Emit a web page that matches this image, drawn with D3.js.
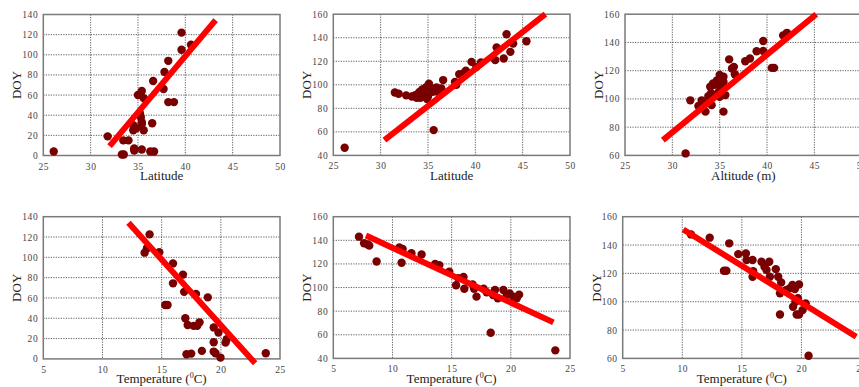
<!DOCTYPE html>
<html>
<head>
<meta charset="utf-8">
<script src="https://cdn.jsdelivr.net/npm/d3@7"></script>
<style>
  body { margin: 0; background: #fff; }
  svg { display: block; }
  .tick text { font-family: "Liberation Serif", "DejaVu Serif", serif; font-size: 9.5px; fill: #444; letter-spacing: 0.6px; }
  .grid line { stroke: #333; stroke-dasharray: 1.2,1.3; stroke-width: 0.8; }
  .ttl { font-family: "Liberation Serif", "DejaVu Serif", serif; font-size: 13px; fill: #222; }
</style>
</head>
<body>
<div id="chart"></div>
<script>
// DOY scatter plots: latitude / altitude / temperature, with fitted lines

// tick labels
var latTicks = [25, 30, 35, 40, 45, 50];
var tempTicks = [5, 10, 15, 20, 25];
var doyTicks140 = [0, 20, 40, 60, 80, 100, 120, 140];
var doyTicks40 = [40, 60, 80, 100, 120, 140, 160];
var doyTicks60 = [60, 80, 100, 120, 140, 160];

// panel a: latitude vs DOY
var latA = [26.1, 31.8, 33.3, 33.5, 33.45, 34.0, 34.5, 34.5, 34.6, 34.6, 35.0, 35.4, 35.6, 35.3, 35.4, 35.4, 35.4, 35.6, 36.3, 36.7, 36.5, 36.6, 37.7, 37.8, 38.2, 38.2, 38.8, 39.6, 39.6, 40.6, 34.8, 35.2];
var doyA = [4, 19, 1, 1, 15, 15, 25, 30, 5, 7, 60, 64, 57, 38, 33, 31, 6, 25, 4, 4, 32, 74, 66, 83, 94, 53, 53, 122, 105, 110, 27, 42];
var fitA = [[32.0, 9.3], [43.2, 134.4]];

// panel b: latitude vs DOY
var latB = [26.2, 31.5, 31.9, 32.7, 33.3, 33.6, 33.9, 34.1, 34.4, 34.6, 34.8, 35.1, 35.3, 35.5, 35.6, 35.9, 36.4, 36.6, 37.85, 38.3, 38.8, 39.6, 40.1, 40.6, 42.1, 42.25, 43.0, 43.3, 43.7, 44.0, 45.4, 34.2, 35.0, 36.0, 34.9, 33.8, 38.0, 39.0];
var doyB = [46.5, 93.5, 92.4, 91, 90, 91, 92, 94, 96, 93, 98, 101, 97, 94, 61.5, 97.7, 97, 104, 102.5, 109, 110, 119.5, 115, 119, 121, 131.7, 122.4, 143, 128, 135, 137, 89, 90, 94, 88, 89, 100, 112];
var fitB = [[30.4, 53], [47.4, 160]];

// panel c: altitude vs DOY
var altC = [31.4, 31.9, 32.75, 33.1, 33.5, 34.15, 34.0, 34.3, 34.7, 34.9, 35.2, 35.4, 35.4, 35.6, 35.0, 35.4, 36.0, 36.3, 36.5, 36.6, 37.7, 38.2, 38.9, 39.6, 39.6, 40.5, 40.75, 41.7, 42.1, 33.8, 34.5, 35.0, 33.4, 34.1];
var doyC = [61.4, 99, 95, 99, 91, 95.6, 108.6, 111, 113, 105, 108.6, 115.7, 112, 102.7, 101.5, 91, 128, 121.6, 122.7, 117.5, 126.7, 128.6, 133.8, 141, 134, 122, 122, 145, 146.8, 102, 110, 117, 97, 104];
var fitC = [[29.0, 70.8], [45.2, 160]];

// panel d: temperature vs DOY
var tempD = [13.56, 13.76, 13.98, 14.8, 15.96, 15.96, 15.3, 15.5, 16.8, 16.9, 17.0, 17.2, 17.1, 17.5, 17.9, 17.7, 18.0, 18.2, 18.4, 18.9, 19.4, 19.4, 19.4, 19.55, 19.8, 19.97, 20.4, 20.5, 23.8];
var doyD = [104.6, 108.9, 122.6, 105, 94, 74.4, 53, 53, 83, 66, 40, 33.4, 4.6, 5.2, 64, 32.5, 32.5, 36, 7.9, 60.6, 31, 16.4, 7.2, 5.6, 26, 1.3, 16, 19.3, 5.6];
var fitD = [[12.2, 134], [22.9, -4.3]];

// panel e: temperature vs DOY
var tempE = [7.17, 7.6, 7.9, 8.04, 8.66, 10.58, 10.86, 10.77, 11.6, 12.46, 13.6, 13.96, 14.8, 15.37, 15.56, 16.0, 16.07, 16.77, 16.9, 17.1, 17.7, 17.96, 18.3, 18.66, 18.5, 18.9, 19.37, 19.65, 19.9, 20.2, 20.5, 20.7, 23.76];
var doyE = [143.1, 137.5, 136.6, 135.5, 122, 134, 132.7, 121, 129, 128, 120, 119, 113.4, 102, 108, 109, 99, 102.7, 99, 92.3, 99, 96, 61.75, 98, 93.7, 91, 98, 93.7, 95, 92.3, 91, 94, 46.8];
var fitE = [[7.76, 144], [23.6, 70.5]];

// panel f: temperature vs DOY
var tempF = [10.73, 12.3, 13.5, 13.7, 13.94, 14.7, 15.34, 15.4, 15.9, 15.95, 15.9, 16.65, 16.9, 17.07, 17.3, 17.35, 17.85, 18.05, 18.3, 18.2, 18.2, 18.7, 19.0, 19.25, 19.45, 19.8, 19.3, 19.5, 19.6, 19.8, 19.7, 20.1, 20.36, 20.6];
var doyF = [147.5, 145.2, 121.9, 121.9, 141.2, 133.6, 134, 129.4, 129.4, 121.6, 117.6, 128.2, 124.7, 122.4, 128.2, 117.6, 123, 117.6, 113.6, 105.9, 91, 108.2, 109.4, 111.8, 109, 112.2, 96.5, 100, 91, 91, 102.4, 94.1, 98.8, 61.9];
var fitF = [[10.08, 151], [24.6, 75.3]];

var width = 859, height = 387;

var panels = [
  { x: latA, y: doyA, fit: fitA, xd: [25, 50], yd: [0, 140], xt: latTicks, yt: doyTicks140, left: 43.3, top: 14.5, w: 236.7, h: 141, xl: "Latitude" },
  { x: latB, y: doyB, fit: fitB, xd: [25, 50], yd: [40, 160], xt: latTicks, yt: doyTicks40, left: 333.3, top: 14.2, w: 236.7, h: 141.2, xl: "Latitude" },
  { x: altC, y: doyC, fit: fitC, xd: [25, 50], yd: [60, 160], xt: latTicks, yt: doyTicks60, left: 625, top: 14.2, w: 236.7, h: 141.2, xl: "Altitude (m)" },
  { x: tempD, y: doyD, fit: fitD, xd: [5, 25], yd: [0, 140], xt: tempTicks, yt: doyTicks140, left: 43.3, top: 216.7, w: 236.7, h: 142.2, xl: "temp" },
  { x: tempE, y: doyE, fit: fitE, xd: [5, 25], yd: [40, 160], xt: tempTicks, yt: doyTicks40, left: 333.3, top: 216.7, w: 236.7, h: 141.7, xl: "temp" },
  { x: tempF, y: doyF, fit: fitF, xd: [5, 25], yd: [60, 160], xt: tempTicks, yt: doyTicks60, left: 622.7, top: 216.7, w: 238.3, h: 141.7, xl: "temp" }
];

var svg = d3.select("#chart").append("svg")
    .attr("width", width)
    .attr("height", height);

panels.forEach(function(p) {
  var xScale = d3.scaleLinear().domain(p.xd).range([0, p.w]);
  var yScale = d3.scaleLinear().domain(p.yd).range([p.h, 0]);

  var g = svg.append("g").attr("transform", "translate(" + p.left + "," + p.top + ")");

  // dotted grid
  g.append("g").attr("class", "grid")
    .selectAll("line")
    .data(p.xt.slice(1, -1))
    .enter().append("line")
      .attr("x1", function(d) { return xScale(d); })
      .attr("x2", function(d) { return xScale(d); })
      .attr("y1", 0).attr("y2", p.h);
  g.append("g").attr("class", "grid")
    .selectAll("line")
    .data(p.yt.slice(1, -1))
    .enter().append("line")
      .attr("y1", function(d) { return yScale(d); })
      .attr("y2", function(d) { return yScale(d); })
      .attr("x1", 0).attr("x2", p.w);

  // axes (labels only)
  var xAxis = d3.axisBottom(xScale).tickValues(p.xt).tickSize(0).tickPadding(5);
  var yAxis = d3.axisLeft(yScale).tickValues(p.yt).tickSize(0).tickPadding(5);
  var xg = g.append("g").attr("transform", "translate(0," + p.h + ")").call(xAxis);
  var yg = g.append("g").call(yAxis);
  xg.select(".domain").remove();
  yg.select(".domain").remove();
  xg.selectAll("text").attr("dy", "0.95em");

  // frame
  g.append("rect")
    .attr("width", p.w).attr("height", p.h)
    .attr("fill", "none")
    .attr("stroke", "#7a7a7a")
    .attr("stroke-width", 1.5);

  // points
  g.selectAll(".dot")
    .data(p.x.map(function(v, i) { return [v, p.y[i]]; }))
    .enter().append("circle")
      .attr("class", "dot")
      .attr("cx", function(d) { return xScale(d[0]); })
      .attr("cy", function(d) { return yScale(d[1]); })
      .attr("r", 4.2)
      .attr("fill", "#780000");

  // fitted line
  g.append("line")
    .attr("x1", xScale(p.fit[0][0])).attr("y1", yScale(p.fit[0][1]))
    .attr("x2", xScale(p.fit[1][0])).attr("y2", yScale(p.fit[1][1]))
    .attr("stroke", "#ff0000")
    .attr("stroke-width", 6);

  // axis titles
  var xt = g.append("text").attr("class", "ttl")
    .attr("x", p.w / 2).attr("y", p.h + 24.5)
    .attr("text-anchor", "middle");
  if (p.xl === "temp") {
    xt.append("tspan").text("Temperature (");
    xt.append("tspan").attr("dy", -5).attr("font-size", "8px").text("0");
    xt.append("tspan").attr("dy", 5).text("C)");
  } else {
    xt.text(p.xl);
  }

  g.append("text").attr("class", "ttl")
    .attr("transform", "translate(-22," + (p.h / 2) + ") rotate(-90)")
    .attr("text-anchor", "middle")
    .text("DOY");
});
</script>
</body>
</html>
